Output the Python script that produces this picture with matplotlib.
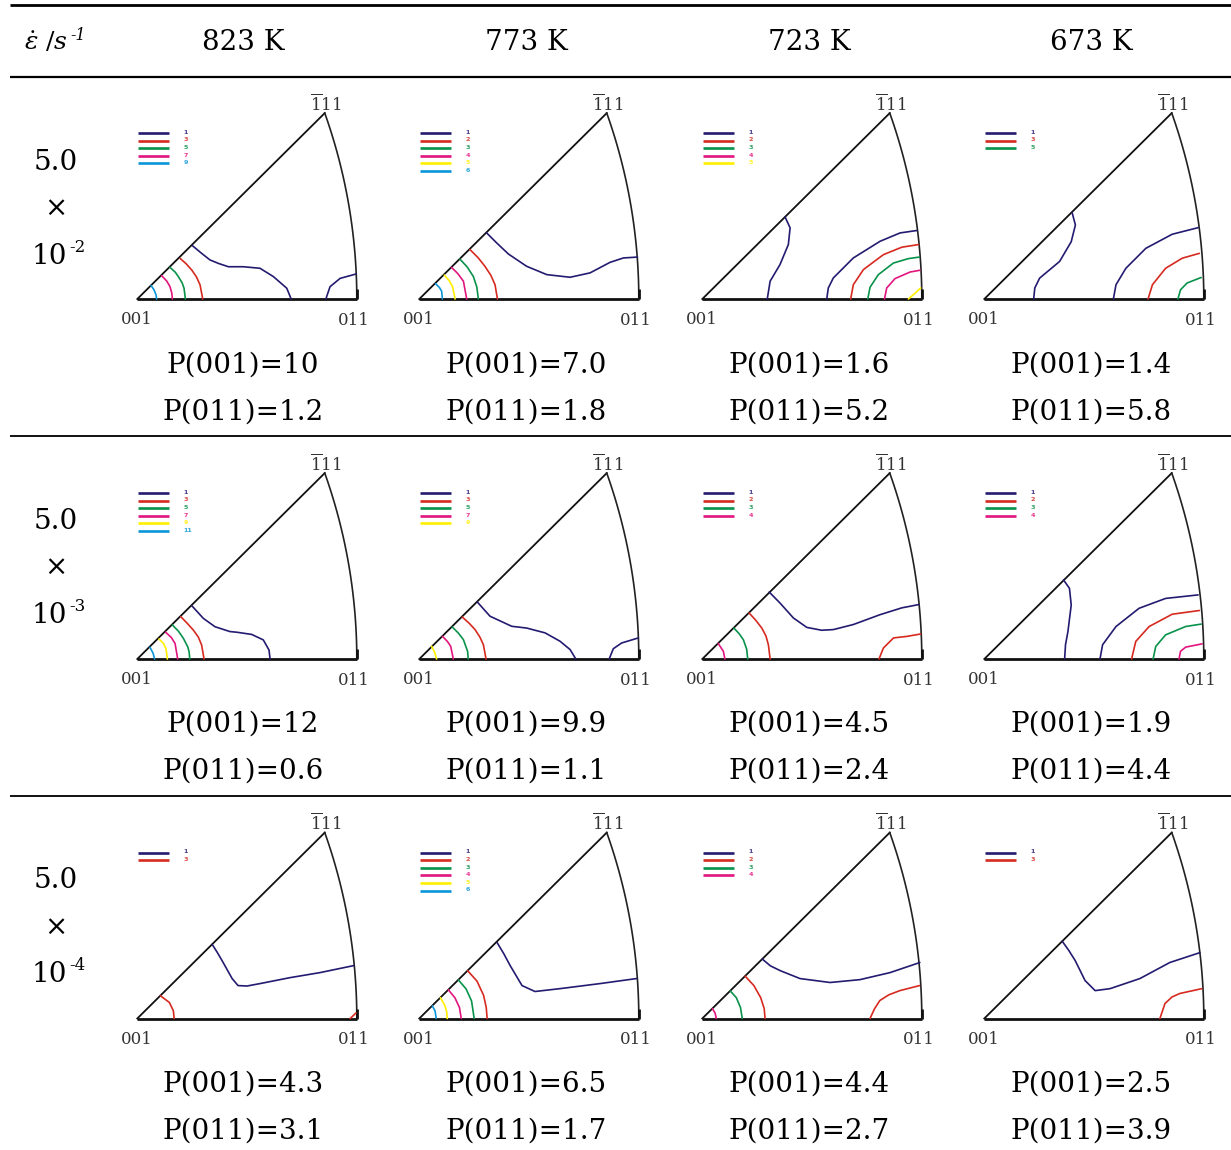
import matplotlib
matplotlib.use("Agg")
import matplotlib.pyplot as plt
import numpy as np

plt.rcParams['font.family'] = ['DejaVu Serif']
plt.rcParams['mathtext.fontset'] = 'dejavuserif'

W, H = 1231, 1150

# ---------------- data ----------------
temperatures = ["823 K", "773 K", "723 K", "673 K"]
rate_mantissa = "5.0"
rate_exponents = ["-2", "-3", "-4"]
p001 = [["10", "7.0", "1.6", "1.4"],
        ["12", "9.9", "4.5", "1.9"],
        ["4.3", "6.5", "4.4", "2.5"]]
p011 = [["1.2", "1.8", "5.2", "5.8"],
        ["0.6", "1.1", "2.4", "4.4"],
        ["3.1", "1.7", "2.7", "3.9"]]

colors = {'n': '#231b70', 'r': '#d62a20', 'g': '#08924a',
          'm': '#e2157f', 'y': '#fff000', 'c': '#0a96da'}

# legend entries per panel: (label, colour key)
legend_r1 = [[("1", 'n'), ("3", 'r'), ("5", 'g'), ("7", 'm'), ("9", 'c')],
             [("1", 'n'), ("2", 'r'), ("3", 'g'), ("4", 'm'), ("5", 'y'), ("6", 'c')],
             [("1", 'n'), ("2", 'r'), ("3", 'g'), ("4", 'm'), ("5", 'y')],
             [("1", 'n'), ("3", 'r'), ("5", 'g')]]
legend_r2 = [[("1", 'n'), ("3", 'r'), ("5", 'g'), ("7", 'm'), ("9", 'y'), ("11", 'c')],
             [("1", 'n'), ("3", 'r'), ("5", 'g'), ("7", 'm'), ("9", 'y')],
             [("1", 'n'), ("2", 'r'), ("3", 'g'), ("4", 'm')],
             [("1", 'n'), ("2", 'r'), ("3", 'g'), ("4", 'm')]]
legend_r3 = [[("1", 'n'), ("3", 'r')],
             [("1", 'n'), ("2", 'r'), ("3", 'g'), ("4", 'm'), ("5", 'y'), ("6", 'c')],
             [("1", 'n'), ("2", 'r'), ("3", 'g'), ("4", 'm')],
             [("1", 'n'), ("3", 'r')]]

# contour lines per panel, in triangle units (001 -> 011 spans 0..100)
c_r1c1 = [('c', [6.3, 7.6, 8.5, 8.8], [6.1, 4.2, 2.0, 0]),
          ('m', [11.1, 13.4, 14.9, 15.7, 16.0], [10.6, 8.2, 5.6, 2.8, 0]),
          ('g', [14.9, 17.3, 18.7, 20.4, 21.3, 21.9], [14.4, 12.2, 10.2, 7.4, 4.9, 0]),
          ('r', [19.5, 22.3, 24.8, 27.0, 28.6, 29.8], [18.5, 16.0, 13.2, 10.0, 6.4, 0]),
          ('n', [25.1, 29.3, 33.1, 37.0, 41.5, 48.3, 55.9, 62.0, 68.1, 70.1],
                [24.3, 20.8, 17.8, 16.2, 14.7, 14.7, 14.0, 10.2, 4.9, 0]),
          ('n', [85.9, 87.8, 92.4, 99.7], [0, 5.6, 9.4, 11.4])]
c_r1c2 = [('c', [7.4, 9.2, 10.2, 10.5], [7.0, 5.2, 3.5, 0]),
          ('y', [11.4, 13.6, 15.2, 16.3], [10.9, 8.4, 5.5, 0]),
          ('m', [14.7, 17.6, 20.1, 21.6], [14.4, 11.5, 8.1, 0]),
          ('g', [18.5, 21.8, 24.6, 26.2, 26.9], [18.2, 14.6, 10.3, 5.5, 0]),
          ('r', [23.1, 26.8, 29.9, 32.6, 34.5, 35.6], [22.5, 18.8, 14.9, 10.8, 6.5, 0]),
          ('n', [30.7, 35.3, 40.6, 48.9, 58.1, 68.7, 77.8, 86.9, 93.0, 99.4],
                [30.1, 25.5, 20.5, 14.9, 11.1, 9.9, 11.9, 16.7, 18.7, 19.1])]
c_r1c3 = [('n', [37.7, 40.0, 39.2, 35.4, 30.9, 29.6], [37.4, 32.4, 24.8, 15.7, 8.1, 0]),
          ('n', [56.7, 57.4, 59.7, 68.8, 81.0, 90.1, 97.7], [0, 5.0, 9.6, 18.7, 26.3, 30.1, 31.2]),
          ('r', [67.6, 68.8, 73.4, 82.5, 90.9, 98.5], [0, 6.5, 13.4, 20.2, 23.6, 24.8]),
          ('g', [75.4, 76.4, 80.2, 87.1, 93.9, 98.9], [0, 5.3, 11.1, 16.4, 18.4, 19.1]),
          ('m', [83.0, 84.0, 87.8, 94.7, 99.2], [0, 5.0, 9.3, 12.3, 13.1]),
          ('y', [93.9, 96.2, 99.5], [0, 2.0, 5.0])]
c_r1c4 = [('n', [40.0, 41.5, 39.6, 34.3, 25.2, 23.0, 22.5], [39.4, 33.7, 26.1, 17.1, 9.5, 5.0, 0]),
          ('n', [58.8, 60.0, 64.5, 73.6, 85.6, 97.4], [0, 6.5, 14.0, 23.1, 29.5, 32.5]),
          ('r', [74.6, 76.6, 82.6, 90.2, 98.0], [0, 6.5, 14.0, 18.6, 20.8]),
          ('g', [88.2, 89.4, 92.4, 98.8], [0, 4.2, 7.3, 9.8])]
c_r2c1 = [('c', [5.8, 7.2, 7.9], [5.3, 2.6, 0]),
          ('y', [9.9, 12.0, 13.1, 13.7], [9.1, 7.0, 4.6, 0]),
          ('m', [12.9, 15.5, 17.2, 18.4], [12.2, 9.8, 7.1, 0]),
          ('g', [16.0, 18.8, 21.0, 23.0, 23.6, 23.9], [15.5, 12.6, 9.4, 5.5, 3.3, 0]),
          ('r', [19.8, 22.8, 25.5, 27.8, 29.3, 30.4], [19.3, 16.2, 13.2, 10.0, 6.4, 0]),
          ('n', [24.8, 30.1, 35.4, 42.2, 45.3, 52.1, 57.4, 60.0, 60.5],
                [24.3, 18.5, 14.7, 12.5, 12.2, 11.2, 8.7, 4.1, 0])]
c_r2c2 = [('y', [5.6, 7.0, 7.9], [5.8, 3.0, 0]),
          ('m', [10.6, 12.8, 14.3, 15.5], [10.3, 8.0, 5.8, 0]),
          ('g', [15.0, 17.8, 20.1, 22.0, 22.3], [14.6, 11.8, 8.8, 3.5, 0]),
          ('r', [19.6, 22.7, 25.4, 27.6, 29.2, 30.4], [19.1, 16.3, 13.4, 10.0, 6.5, 0]),
          ('n', [26.4, 32.2, 36.5, 42.1, 48.9, 57.3, 64.1, 68.7, 71.3],
                [26.0, 19.5, 17.5, 14.9, 14.1, 11.9, 8.1, 4.3, 0]),
          ('n', [86.5, 88.4, 92.2, 99.8], [0, 4.7, 7.3, 9.6])]
c_r2c3 = [('m', [7.3, 9.6, 10.3], [7.0, 3.5, 0]),
          ('g', [14.4, 16.8, 18.7, 20.2, 20.7], [14.1, 11.5, 8.8, 4.5, 0]),
          ('r', [21.3, 24.4, 27.1, 29.0, 30.1, 30.9], [21.0, 17.6, 14.1, 10.5, 6.5, 0]),
          ('n', [30.5, 35.4, 41.5, 47.6, 54.4, 59.7, 68.8, 81.0, 90.9, 98.6],
                [30.5, 25.5, 18.7, 14.4, 13.1, 13.4, 15.7, 20.2, 23.3, 24.8]),
          ('r', [80.5, 82.5, 87.1, 93.2, 99.5], [0, 5.0, 9.6, 10.3, 11.4])]
c_r2c4 = [('n', [36.1, 38.8, 39.6, 38.1, 37.0, 36.6], [36.0, 32.2, 24.6, 12.5, 6.5, 0]),
          ('n', [52.7, 53.9, 60.0, 70.5, 82.6, 97.4], [0, 6.5, 14.8, 23.1, 27.6, 29.2]),
          ('r', [67.1, 69.0, 75.1, 85.6, 98.0], [0, 8.0, 14.8, 20.4, 22.1]),
          ('g', [76.9, 78.1, 82.6, 91.7, 98.8], [0, 5.7, 11.0, 14.8, 15.9]),
          ('m', [88.7, 89.4, 91.7, 99.2], [0, 3.5, 5.4, 6.9])]
c_r3c1 = [('r', [10.5, 14.6, 16.4, 16.8], [10.4, 7.3, 3.6, 0]),
          ('n', [34.1, 36.5, 38.6, 43.2, 45.9, 50.0, 55.9, 69.5, 83.2, 98.6],
                [33.8, 30.0, 26.4, 18.2, 15.0, 14.8, 15.9, 18.6, 20.9, 24.1]),
          ('r', [97.0, 99.6], [0, 2.5])]
c_r3c2 = [('c', [5.9, 7.2, 7.7], [5.8, 3.4, 0]),
          ('y', [9.6, 11.6, 12.5, 12.7], [9.5, 6.0, 3.0, 0]),
          ('m', [13.2, 16.2, 18.3, 19.1], [13.1, 9.5, 5.0, 0]),
          ('g', [17.8, 21.3, 23.8, 25.0], [17.6, 13.5, 8.0, 0]),
          ('r', [22.0, 26.3, 29.3, 30.5, 30.9], [21.8, 17.0, 10.5, 5.0, 0]),
          ('n', [35.5, 38.5, 41.4, 46.8, 52.7, 64.1, 82.3, 99.0],
                [34.5, 29.5, 24.1, 15.0, 12.3, 13.6, 15.9, 18.2])]
c_r3c3 = [('m', [4.6, 5.8, 6.4], [4.5, 2.5, 0]),
          ('g', [12.7, 15.5, 17.4, 18.2], [12.6, 9.5, 5.0, 0]),
          ('r', [19.5, 23.5, 26.6, 28.2, 28.6], [19.3, 15.0, 9.5, 4.5, 0]),
          ('n', [27.3, 31.0, 35.5, 44.5, 58.2, 71.8, 85.5, 99.1],
                [27.1, 24.0, 21.8, 18.2, 16.4, 17.7, 20.9, 25.5]),
          ('r', [76.4, 78.5, 80.9, 85.0, 90.0, 99.0], [0, 4.5, 8.2, 10.8, 12.7, 15.0])]
c_r3c4 = [('n', [35.5, 38.5, 41.4, 45.9, 50.5, 57.3, 70.9, 84.5, 98.2],
                [35.2, 31.0, 26.4, 17.3, 12.7, 13.6, 18.2, 25.5, 30.0]),
          ('r', [80.0, 82.3, 85.5, 89.1, 99.1], [0, 6.8, 9.8, 11.4, 13.6])]

contours = [[c_r1c1, c_r1c2, c_r1c3, c_r1c4],
            [c_r2c1, c_r2c2, c_r2c3, c_r2c4],
            [c_r3c1, c_r3c2, c_r3c3, c_r3c4]]
legends = [legend_r1, legend_r2, legend_r3]

# ---------------- layout ----------------
col_x001 = [137.3, 419.3, 702.3, 984.3]   # px of 001 vertex
row_base = [299.0, 659.0, 1018.5]         # px of triangle base
col_center = [243, 526, 809, 1091]
px_per_unit = 2.195
V111 = (85.4, 84.7)

fig = plt.figure(figsize=(W / 100, H / 100), dpi=100)
bg = fig.add_axes([0, 0, 1, 1])
bg.set_xlim(0, W)
bg.set_ylim(H, 0)
bg.axis('off')

# table rules
bg.plot([10, W], [5, 5], color='black', lw=2.0, solid_capstyle='butt')
bg.plot([10, W], [77, 77], color='black', lw=1.6, solid_capstyle='butt')
for y in [436, 796]:
    bg.plot([10, W], [y, y], color='black', lw=1.3, solid_capstyle='butt')

# header
bg.text(24, 43, r"$\dot{\varepsilon}\ /s$", fontsize=18, ha='left', va='center')
bg.text(70, 35, "-1", fontsize=11.5, style='italic', ha='left', va='center')
for cx, t in zip(col_center, temperatures):
    bg.text(cx, 42, t, fontsize=20, ha='center', va='center')

# row labels and P values
for r in range(3):
    y0 = 162 + r * 359.5
    bg.text(56, y0, rate_mantissa, fontsize=20, ha='center', va='center')
    bg.text(56, y0 + 46, "×", fontsize=20, ha='center', va='center')
    bg.text(67, y0 + 94, "10", fontsize=20, ha='right', va='center')
    bg.text(69, y0 + 85, rate_exponents[r], fontsize=12, ha='left', va='center')
    for c in range(4):
        bg.text(col_center[c], 365 + r * 359.5, "P(001)=" + p001[r][c],
                fontsize=20, ha='center', va='center')
        bg.text(col_center[c], 412 + r * 359.5, "P(011)=" + p011[r][c],
                fontsize=20, ha='center', va='center')

# arc geometry: circle through 011 and 111 centred on the base line
cx_arc = (100 ** 2 - V111[0] ** 2 - V111[1] ** 2) / (2 * (100 - V111[0]))
rad = 100 - cx_arc
theta_end = np.arcsin(V111[1] / rad)

for r in range(3):
    for c in range(4):
        x0 = col_x001[c]
        yb = row_base[r]
        wpx = 100 * px_per_unit
        hpx = 90 * px_per_unit
        ax = fig.add_axes([x0 / W, (H - yb) / H, wpx / W, hpx / H])
        ax.set_xlim(0, 100)
        ax.set_ylim(0, 90)
        ax.axis('off')
        # triangle
        ax.plot([0, 100], [0, 0], color='#111111', lw=2.0, solid_capstyle='butt', clip_on=False)
        ax.plot([0, V111[0]], [0, V111[1]], color='#111111', lw=1.3, clip_on=False)
        th = np.linspace(0, theta_end, 60)
        ax.plot(cx_arc + rad * np.cos(th), rad * np.sin(th), color='#222222', lw=1.2, clip_on=False)
        ax.plot([100, 100], [0, 4.5], color='#111111', lw=2.0, solid_capstyle='butt', clip_on=False)
        # contours
        for key, us, vs in contours[r][c]:
            ax.plot(us, vs, color=colors[key], lw=1.2, clip_on=False,
                    solid_joinstyle='round', solid_capstyle='round')
        # legend
        for i, (lab, key) in enumerate(legends[r][c]):
            yy = 75.6 - i * 3.46
            ax.plot([0.5, 14.6], [yy, yy], color=colors[key], lw=1.9,
                    solid_capstyle='butt', clip_on=False)
            ax.text(21.0, yy + 0.3, lab, color=colors[key], fontsize=4.6,
                    family='DejaVu Sans', fontweight='bold',
                    ha='left', va='center', alpha=0.85)
        # vertex labels
        ax.text(0, -9.4, "001", fontsize=12, color='#333333', ha='center', va='center')
        ax.text(98.5, -9.6, "011", fontsize=12, color='#333333', ha='center', va='center')
        ax.text(86.0, 88.8, r"$\overline{1}$11", fontsize=12, color='#333333',
                ha='center', va='center')

fig.savefig("out.png", dpi=100)
